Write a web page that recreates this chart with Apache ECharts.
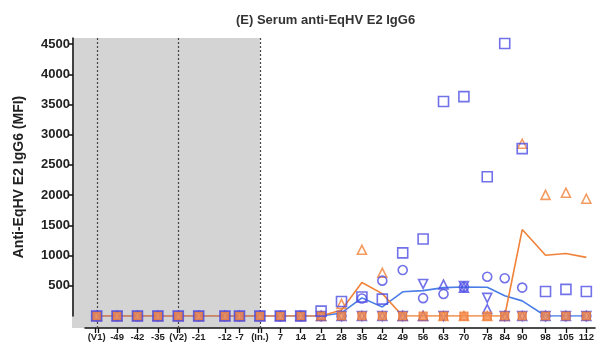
<!DOCTYPE html>
<html>
<head>
<meta charset="utf-8">
<script src="https://cdn.jsdelivr.net/npm/echarts@6/dist/echarts.min.js"></script>
<style>
  html, body { margin: 0; padding: 0; background: #fff; }
  #chart { width: 597px; height: 347px; }
</style>
</head>
<body>
<div id="chart"></div>
<script>
// Study days relative to infection (V1/V2 = vaccinations, In. = infection)
const days = [-56, -49, -42, -35, -28, -21, -12, -7, 0, 7, 14, 21, 28, 35, 42, 49, 56, 63, 70, 78, 84, 90, 98, 105, 112];
const dayLabels = ['(V1)', '-49', '-42', '-35', '(V2)', '-21', '-12', '-7', '(In.)', '7', '14', '21', '28', '35', '42', '49', '56', '63', '70', '78', '84', '90', '98', '105', '112'];
const visitDays = [-56, -28, 0];
const yTicks = [500, 1000, 1500, 2000, 2500, 3000, 3500, 4000, 4500];

// Individual horses, blue group
const blueSquare   = [0, 0, 0, 0, 0, 0, 0, 0, 0, 0, 0, 80, 240, 315, 280, 1045, 1275, 3550, 3630, 2305, 4510, 2770, 405, 440, 405];
const blueCircle   = [0, 0, 0, 0, 0, 0, 0, 0, 0, 0, 0, 0, 0, 290, 585, 760, 295, 365, 480, 650, 625, 470, 0, 0, 0];
const blueTriUp    = [0, 0, 0, 0, 0, 0, 0, 0, 0, 0, 0, 0, 0, 0, 0, 0, 0, 520, 470, 115, 0, 0, 0, 0, 0];
const blueTriDown  = [0, 0, 0, 0, 0, 0, 0, 0, 0, 0, 0, 0, 0, 0, 0, 0, 530, 0, 495, 300, 0, 0, 0, 0, 0];
// Individual horses, orange group
const orangeTriUp  = [0, 0, 0, 0, 0, 0, 0, 0, 0, 0, 0, 0, 200, 1095, 715, 0, 0, 0, 0, 0, 0, 2850, 2005, 2040, 1940];
const orangeSquare = [0, 0, 0, 0, 0, 0, 0, 0, 0, 0, 0, 0, 0, 0, 0, 0, 0, 0, 0, 0, 0, 0, 0, 0, 0];
// Group summary lines
const blueLine     = [0, 0, 0, 0, 0, 0, 0, 0, 0, 0, 0, 0, 50, 300, 150, 400, 420, 470, 480, 475, 335, 250, 0, 0, 0];
const orangeLine   = [0, 0, 0, 0, 0, 0, 0, 0, 0, 0, 0, 0, 100, 555, 370, 0, 0, 0, 0, 0, 0, 1430, 1005, 1035, 970];

const BLUE = '#4d4de3';
const BLUE_LINE = '#4a7ee6';
const ORANGE = '#f0823a';
const FONT = '"Liberation Sans", Arial, Helvetica, sans-serif';

const GRID = { left: 85, right: 0, top: 38, bottom: 31 };
const X_OFFSET = 12, Y_OFFSET = 12;

const pairs = arr => days.map((d, i) => [d, arr[i]]);
const labelOf = {};
days.forEach((d, i) => { labelOf[d] = dayLabels[i]; });

// Visit days get a doubled tick
const xTickValues = [];
days.forEach(d => {
  if (visitDays.includes(d)) { xTickValues.push(d - 0.4, d + 0.4); }
  else { xTickValues.push(d); }
});

function markers(arr, symbol, color, opts) {
  return Object.assign({
    type: 'scatter',
    data: pairs(arr),
    symbol: symbol,
    symbolSize: 9,
    clip: false,
    z: 4,
    itemStyle: { color: 'rgba(0,0,0,0)', borderColor: color, borderWidth: 1.6 }
  }, opts || {});
}

const chart = echarts.init(document.getElementById('chart'));
chart.setOption({
  animation: false,
  backgroundColor: '#fff',
  textStyle: { fontFamily: FONT },
  title: {
    text: '(E) Serum anti-EqHV E2 IgG6',
    left: 231, top: 9,
    textStyle: { fontFamily: FONT, fontSize: 13, fontWeight: 'bold', color: '#333' }
  },
  grid: GRID,
  xAxis: {
    type: 'value', min: -60, max: 115, offset: X_OFFSET,
    axisLine: { show: true, onZero: false, lineStyle: { color: '#111', width: 1.5 } },
    axisTick: { show: true, customValues: xTickValues, length: 5, lineStyle: { color: '#111', width: 1.3 } },
    axisLabel: {
      customValues: days, formatter: v => labelOf[v] || '',
      fontFamily: FONT, fontSize: 9.5, fontWeight: 'bold', color: '#222', margin: 4
    },
    splitLine: { show: false }
  },
  yAxis: {
    type: 'value', min: 0, max: 4600, offset: Y_OFFSET,
    axisLine: { show: true, onZero: false, lineStyle: { color: '#111', width: 1.5 } },
    axisTick: { show: true, customValues: yTicks, length: 5, lineStyle: { color: '#111', width: 1.5 } },
    axisLabel: {
      customValues: yTicks, formatter: v => String(v),
      fontFamily: FONT, fontSize: 13, fontWeight: 'bold', color: '#222', margin: 3
    },
    splitLine: { show: false },
    name: 'Anti-EqHV E2 IgG6 (MFI)',
    nameLocation: 'middle', nameGap: 47,
    nameTextStyle: { fontFamily: FONT, fontSize: 14, fontWeight: 'bold', color: '#222' }
  },
  series: [
    { type: 'line', data: pairs(blueLine), symbol: 'none', z: 3,
      lineStyle: { color: BLUE_LINE, width: 1.6 } },
    { type: 'line', data: pairs(orangeLine), symbol: 'none', z: 3,
      lineStyle: { color: ORANGE, width: 1.6 } },
    markers(orangeTriUp, 'triangle', ORANGE),
    markers(blueCircle, 'circle', BLUE),
    markers(blueTriUp, 'triangle', BLUE),
    markers(blueTriDown, 'triangle', BLUE, { symbolRotate: 180 }),
    markers(orangeSquare, 'rect', ORANGE, {
      symbolSize: 8, z: 5, itemStyle: { color: '#f48c4c', borderColor: '#ec7630', borderWidth: 1.2 } }),
    markers(blueSquare, 'rect', BLUE, { symbolSize: 10, z: 6 })
  ]
});

// Shaded pre-infection period and dotted visit lines, placed through the axis scale
function drawPeriod() {
  const h = chart.getHeight();
  const top = GRID.top;
  const bottom = h - GRID.bottom + X_OFFSET;
  const left = GRID.left - Y_OFFSET - 1;
  const right = chart.convertToPixel({ xAxisIndex: 0 }, 0);
  const elements = [{
    type: 'rect', z: -1, silent: true,
    shape: { x: left, y: top, width: right - left, height: bottom - top },
    style: { fill: '#d4d4d4' }
  }];
  visitDays.forEach(d => {
    const x = Math.round(chart.convertToPixel({ xAxisIndex: 0 }, d)) + 0.5;
    elements.push({
      type: 'line', z: 1, silent: true,
      shape: { x1: x, y1: top, x2: x, y2: bottom },
      style: { stroke: '#444', lineWidth: 1.2, lineDash: [2, 2] }
    });
  });
  chart.setOption({ graphic: elements });
}
drawPeriod();
</script>
</body>
</html>
